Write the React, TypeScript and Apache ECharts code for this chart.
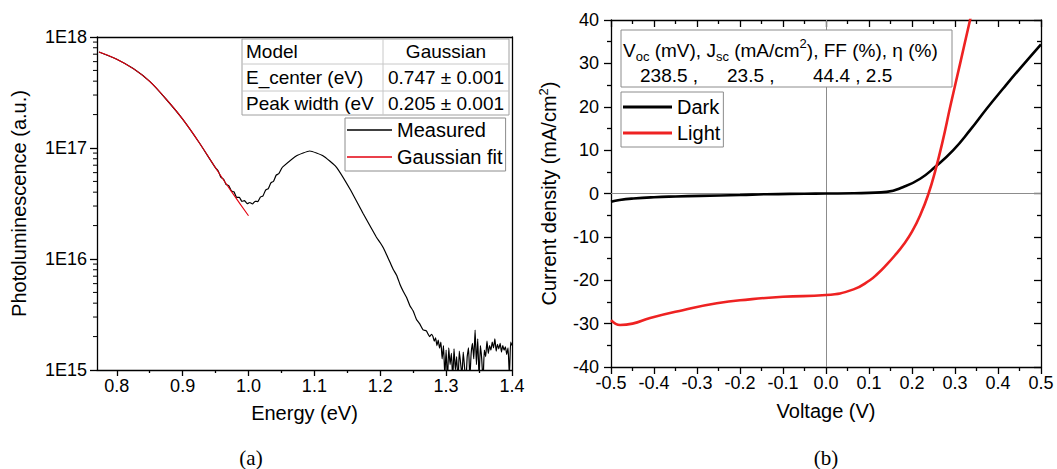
import React, { useEffect, useRef } from "react";
import * as echarts from "echarts";

const FONT = "'Liberation Sans', Arial, sans-serif";

// ---------- (a) Photoluminescence ----------
const plEnergy = [
  0.773, 0.8, 0.825, 0.85, 0.875, 0.9, 0.925, 0.95,
  0.954, 0.958, 0.962, 0.966, 0.97, 0.974, 0.978, 0.982, 0.986, 0.99, 0.994, 0.998, 1.002, 1.006, 1.01, 1.014,
  1.018, 1.022, 1.026, 1.03, 1.034, 1.038, 1.042, 1.046, 1.05,
  1.052, 1.073, 1.093, 1.113, 1.133, 1.154, 1.174, 1.194,
  1.2, 1.205, 1.21, 1.215, 1.22, 1.225, 1.23, 1.235, 1.24, 1.245, 1.25, 1.255, 1.26, 1.265, 1.27, 1.275, 1.278,
  1.28, 1.282, 1.284, 1.286, 1.288, 1.29, 1.292, 1.294, 1.296, 1.298, 1.3, 1.302, 1.304, 1.306, 1.308, 1.31,
  1.312, 1.314, 1.316, 1.318, 1.32, 1.322, 1.324, 1.326, 1.328, 1.33, 1.332, 1.334, 1.336, 1.338, 1.34, 1.342,
  1.344, 1.346, 1.348, 1.35, 1.352, 1.354, 1.356, 1.358, 1.36, 1.362, 1.364, 1.366, 1.368, 1.37, 1.372, 1.374,
  1.376, 1.378, 1.38, 1.382, 1.384, 1.386, 1.388, 1.39, 1.392, 1.394, 1.396, 1.398, 1.4,
];
const plMeasured = [
  7.33e17, 6.31e17, 5.19e17, 3.98e17, 2.75e17, 1.82e17, 1.12e17, 6.61e16,
  6.21e16, 5.45e16, 5.25e16, 4.69e16, 4.59e16, 4.1e16, 4.02e16, 3.59e16, 3.6e16, 3.3e16, 3.36e16, 3.15e16, 3.23e16, 3.13e16, 3.31e16, 3.29e16,
  3.61e16, 3.71e16, 4.18e16, 4.31e16, 4.86e16, 5.02e16, 5.69e16, 5.87e16, 6.5e16,
  6.76e16, 8.51e16, 9.4e16, 8.51e16, 6.76e16, 4.27e16, 2.57e16, 1.58e16,
  1.4e16, 1.25e16, 1.08e16, 9.3e15, 8.0e15, 7.1e15, 5.9e15, 5.1e15, 4.5e15, 3.8e15, 3.4e15, 2.85e15, 2.6e15, 2.3e15, 2.25e15, 2.0e15, 2.1e15,
  2.0e15, 1.82e15, 1.95e15, 1.66e15, 1.86e15, 1.58e15, 1.78e15, 1.26e15, 1.66e15, 8.9e14, 1.51e15, 7.9e14, 1.58e15, 1.12e15, 1.41e15, 8.3e14,
  1.55e15, 1.0e15, 1.32e15, 7.6e14, 1.48e15, 1.15e15, 8.9e14, 1.45e15, 1.05e15, 7.9e14, 1.32e15, 1.58e15, 8.5e14, 1.41e15, 1.74e15, 1.26e15,
  2.29e15, 1.12e15, 1.91e15, 8.3e14, 1.66e15, 1.26e15, 7.9e14, 1.51e15, 1.32e15, 1.82e15, 1.41e15, 1.66e15, 1.51e15, 1.78e15, 1.58e15, 1.91e15,
  1.48e15, 1.7e15, 1.55e15, 1.74e15, 1.45e15, 1.66e15, 1.51e15, 1.62e15, 1.38e15, 1.58e15, 8.9e14, 1.78e15, 1.66e15,
];
const fitEnergy = [0.773, 0.8, 0.825, 0.85, 0.875, 0.9, 0.925, 0.95, 0.975, 1.0];
const fitValues = [7.33e17, 6.31e17, 5.19e17, 3.98e17, 2.75e17, 1.82e17, 1.12e17, 6.61e16, 3.98e16, 2.45e16];
const plXMin = 0.77;
const plXMax = 1.4;
const plXTicks = [0.8, 0.9, 1.0, 1.1, 1.2, 1.3, 1.4];
const plXMinorTicks = [0.85, 0.95, 1.05, 1.15, 1.25, 1.35];
const plYMinorTicks = [
  2e15, 3e15, 4e15, 5e15, 6e15, 7e15, 8e15, 9e15,
  2e16, 3e16, 4e16, 5e16, 6e16, 7e16, 8e16, 9e16,
  2e17, 3e17, 4e17, 5e17, 6e17, 7e17, 8e17, 9e17,
];
const tableRows = [
  ["Model", "Gaussian"],
  ["E_center (eV)", "0.747 \u00b1 0.001"],
  ["Peak width (eV", "0.205 \u00b1 0.001"],
];

// ---------- (b) J-V ----------
const darkV = [-0.5, -0.48, -0.448, -0.4, -0.35, -0.293, -0.2, -0.139, -0.05, 0.0, 0.064, 0.1, 0.141, 0.18, 0.219, 0.2535, 0.296, 0.335, 0.374, 0.412, 0.451, 0.5];
const darkJ = [-1.9, -1.5, -1.15, -0.85, -0.68, -0.55, -0.35, -0.16, -0.05, 0.0, 0.05, 0.15, 0.37, 1.5, 3.4, 6.1, 10.0, 14.6, 19.6, 24.2, 28.8, 34.4];
const lightV = [-0.5, -0.49, -0.479, -0.45, -0.409, -0.333, -0.254, -0.177, -0.1, 0.0, 0.064, 0.102, 0.12, 0.141, 0.16, 0.18, 0.2, 0.22, 0.2385, 0.2535, 0.27, 0.29, 0.312, 0.335, 0.345];
const lightJ = [-29.2, -30.0, -30.3, -30.0, -28.7, -26.9, -25.3, -24.4, -23.8, -23.4, -22.1, -20.0, -18.5, -16.4, -14.3, -11.8, -8.8, -4.8, 0.0, 5.0, 11.5, 20.5, 30.0, 40.0, 44.0];
const headerTitle = "{n|V}{sub|oc}{n| (mV), J}{sub|sc}{n| (mA/cm}{sup|2}{n|), FF (%), \u03b7 (%)}";
const headerValues = ["238.5 ,", "23.5 ,", "44.4 , 2.5"];

const zip = (xs: number[], ys: number[]) => xs.map((x, i) => [x, ys[i]]);

export default function App() {
  const ref = useRef<HTMLDivElement>(null);
  useEffect(() => {
    if (!ref.current) return;
    const chart = echarts.init(ref.current, undefined, { renderer: "svg" });
    const black = { color: "#000", width: 1.3 };
    const gray = "#8c8c8c";
    const tickLabel = { color: "#000", fontSize: 18, fontFamily: FONT };
    const nameStyle = { color: "#000", fontSize: 20, fontFamily: FONT };

    const tableX0 = 242, tableX1 = 509, tableXm = 383;
    const tableY = [39, 64, 91, 115];
    const tableGraphics: any[] = [
      { type: "rect", shape: { x: tableX0, y: tableY[0], width: tableX1 - tableX0, height: tableY[3] - tableY[0] }, style: { fill: "#fff", stroke: "#a0a0a0", lineWidth: 1 } },
      { type: "line", shape: { x1: tableX0, y1: tableY[1], x2: tableX1, y2: tableY[1] }, style: { stroke: "#c8c8c8", lineWidth: 1 } },
      { type: "line", shape: { x1: tableX0, y1: tableY[2], x2: tableX1, y2: tableY[2] }, style: { stroke: "#c8c8c8", lineWidth: 1 } },
      { type: "line", shape: { x1: tableXm, y1: tableY[0], x2: tableXm, y2: tableY[3] }, style: { stroke: "#c8c8c8", lineWidth: 1 } },
    ];
    tableRows.forEach((row, i) => {
      const cy = (tableY[i] + tableY[i + 1]) / 2;
      tableGraphics.push({ type: "text", x: 246, y: cy, style: { text: row[0], fontSize: 19, fontFamily: FONT, fill: "#000", verticalAlign: "middle", align: "left" } });
      tableGraphics.push({ type: "text", x: (tableXm + tableX1) / 2, y: cy, style: { text: row[1], fontSize: 19, fontFamily: FONT, fill: "#000", verticalAlign: "middle", align: "center" } });
    });

    const option: any = {
      animation: false,
      textStyle: { fontFamily: FONT },
      grid: [
        { left: 97, top: 37, width: 415, height: 333 },
        { left: 611, top: 20, width: 430, height: 347 },
      ],
      legend: [
        {
          data: ["Measured", "Gaussian fit"], orient: "vertical", left: 345, top: 118, icon: "rect",
          itemWidth: 45, itemHeight: 1.5, itemGap: 5, padding: [1, 3, 3, 2], borderColor: "#8c8c8c", borderWidth: 1,
          backgroundColor: "#fff", selectedMode: false, textStyle: { fontSize: 20, color: "#000", lineHeight: 22, fontFamily: FONT },
        },
        {
          data: ["Dark", "Light"], orient: "vertical", left: 621, top: 92, icon: "rect",
          itemWidth: 49, itemHeight: 3, itemGap: 4, padding: [4, 3, 3, 2], borderColor: "#8c8c8c", borderWidth: 1,
          backgroundColor: "#fff", selectedMode: false, textStyle: { fontSize: 20, color: "#000", lineHeight: 22, fontFamily: FONT },
        },
      ],
      xAxis: [
        {
          gridIndex: 0, type: "value", min: plXMin, max: plXMax, position: "bottom",
          axisLine: { lineStyle: black },
          axisTick: { customValues: plXTicks, length: 6, lineStyle: black },
          axisLabel: { customValues: plXTicks, formatter: (v: number) => v.toFixed(1), margin: 7, ...tickLabel },
          splitLine: { show: false },
          name: "Energy (eV)", nameLocation: "middle", nameGap: 33, nameTextStyle: nameStyle,
        },
        {
          gridIndex: 0, type: "value", min: plXMin, max: plXMax, position: "bottom",
          axisLine: { show: false },
          axisTick: { customValues: plXMinorTicks, length: 3, lineStyle: black },
          axisLabel: { show: false }, splitLine: { show: false },
        },
        {
          gridIndex: 0, type: "value", min: plXMin, max: plXMax, position: "top",
          axisLine: { lineStyle: black }, axisTick: { show: false }, axisLabel: { show: false }, splitLine: { show: false },
        },
        {
          gridIndex: 1, type: "value", min: -0.5, max: 0.5, interval: 0.1, position: "bottom",
          axisLine: { onZero: false, lineStyle: black },
          axisTick: { length: 7, lineStyle: black },
          minorTick: { show: true, splitNumber: 2, length: 4, lineStyle: black },
          axisLabel: { formatter: (v: number) => v.toFixed(1), margin: 7, ...tickLabel },
          splitLine: { show: false },
          name: "Voltage (V)", nameLocation: "middle", nameGap: 34, nameTextStyle: nameStyle,
        },
        {
          gridIndex: 1, type: "value", min: -0.5, max: 0.5, interval: 0.1, position: "top",
          axisLine: { onZero: false, lineStyle: black },
          axisTick: { inside: true, length: 7, lineStyle: black },
          minorTick: { show: true, splitNumber: 2, length: 4, lineStyle: black },
          axisLabel: { show: false }, splitLine: { show: false },
        },
      ],
      yAxis: [
        {
          gridIndex: 0, type: "log", logBase: 10, min: 1e15, max: 1e18, position: "left",
          axisLine: { lineStyle: black },
          axisTick: { length: 7, lineStyle: black },
          axisLabel: { formatter: (v: number) => "1E" + Math.round(Math.log10(v)), margin: 10, ...tickLabel },
          splitLine: { show: false },
          name: "Photoluminescence (a.u.)", nameLocation: "middle", nameGap: 68, nameTextStyle: nameStyle,
        },
        {
          gridIndex: 0, type: "log", logBase: 10, min: 1e15, max: 1e18, position: "right",
          axisLine: { lineStyle: black }, axisTick: { show: false }, axisLabel: { show: false }, splitLine: { show: false },
        },
        {
          gridIndex: 1, type: "value", min: -40, max: 40, interval: 10, position: "left",
          axisLine: { onZero: false, lineStyle: black },
          axisTick: { length: 7, lineStyle: black },
          minorTick: { show: true, splitNumber: 2, length: 4, lineStyle: black },
          axisLabel: { margin: 12, ...tickLabel },
          splitLine: { show: false },
          name: "{n|Current density (mA/cm}{s|2}{n|)}", nameLocation: "middle", nameGap: 50,
          nameTextStyle: {
            ...nameStyle,
            rich: {
              n: { fontSize: 20, fontFamily: FONT, color: "#000", lineHeight: 24 },
              s: { fontSize: 13, fontFamily: FONT, color: "#000", lineHeight: 14, verticalAlign: "top" },
            },
          },
        },
        {
          gridIndex: 1, type: "value", min: -40, max: 40, interval: 10, position: "right",
          axisLine: { onZero: false, lineStyle: black },
          axisTick: { inside: true, length: 7, lineStyle: black },
          minorTick: { show: true, splitNumber: 2, length: 4, lineStyle: black },
          axisLabel: { show: false }, splitLine: { show: false },
        },
      ],
      series: [
        {
          name: "Measured", type: "line", xAxisIndex: 0, yAxisIndex: 0, data: zip(plEnergy, plMeasured),
          showSymbol: false, smooth: 0.15, clip: true,
          lineStyle: { color: "#000", width: 1.2 }, itemStyle: { color: "#000" }, z: 2,
        },
        {
          name: "Gaussian fit", type: "line", xAxisIndex: 0, yAxisIndex: 0, data: zip(fitEnergy, fitValues),
          showSymbol: false, smooth: true, clip: true,
          lineStyle: { color: "#e3000f", width: 1.1 }, itemStyle: { color: "#e3000f" }, z: 3,
        },
        {
          type: "custom", xAxisIndex: 0, yAxisIndex: 0, clip: false, silent: true,
          data: plYMinorTicks.map((v) => [plXMin, v]),
          renderItem: (_p: any, api: any) => {
            const pt = api.coord([api.value(0), api.value(1)]);
            return { type: "line", shape: { x1: pt[0] - 4, y1: pt[1], x2: pt[0], y2: pt[1] }, style: { stroke: "#000", lineWidth: 1 } };
          },
        },
        {
          name: "Dark", type: "line", xAxisIndex: 3, yAxisIndex: 2, data: zip(darkV, darkJ),
          showSymbol: false, smooth: true, clip: true,
          lineStyle: { color: "#000", width: 2.6 }, itemStyle: { color: "#000" }, z: 3,
          markLine: {
            silent: true, symbol: ["none", "none"], label: { show: false },
            lineStyle: { color: gray, type: "solid", width: 1 },
            data: [{ xAxis: 0 }, { yAxis: 0 }],
            z: 1,
          },
        },
        {
          name: "Light", type: "line", xAxisIndex: 3, yAxisIndex: 2, data: zip(lightV, lightJ),
          showSymbol: false, smooth: true, clip: true,
          lineStyle: { color: "#ee2222", width: 2.6 }, itemStyle: { color: "#ee2222" }, z: 3,
        },
      ],
      graphic: [
        ...tableGraphics.map((g) => ({ ...g, z: 100 })),
        { type: "rect", z: 100, shape: { x: 621, y: 30, width: 331, height: 57 }, style: { fill: "#fff", stroke: "#8c8c8c", lineWidth: 1 } },
        {
          type: "text", z: 101, x: 623, y: 50,
          style: {
            text: headerTitle, verticalAlign: "middle", align: "left",
            rich: {
              n: { fontSize: 19, fontFamily: FONT, fill: "#000", lineHeight: 26 },
              sub: { fontSize: 13, fontFamily: FONT, fill: "#000", lineHeight: 14, verticalAlign: "bottom" },
              sup: { fontSize: 13, fontFamily: FONT, fill: "#000", lineHeight: 14, verticalAlign: "top" },
            },
          },
        },
        { type: "text", z: 101, x: 640, y: 75, style: { text: headerValues[0], fontSize: 19, fontFamily: FONT, fill: "#000", verticalAlign: "middle" } },
        { type: "text", z: 101, x: 727, y: 75, style: { text: headerValues[1], fontSize: 19, fontFamily: FONT, fill: "#000", verticalAlign: "middle" } },
        { type: "text", z: 101, x: 813, y: 75, style: { text: headerValues[2], fontSize: 19, fontFamily: FONT, fill: "#000", verticalAlign: "middle" } },
        { type: "text", z: 101, x: 251, y: 458, style: { text: "(a)", fontSize: 21, fontFamily: "'Liberation Serif', 'DejaVu Serif', serif", fill: "#000", align: "center", verticalAlign: "middle" } },
        { type: "text", z: 101, x: 826, y: 458, style: { text: "(b)", fontSize: 21, fontFamily: "'Liberation Serif', 'DejaVu Serif', serif", fill: "#000", align: "center", verticalAlign: "middle" } },
      ],
    };
    chart.setOption(option);
    return () => chart.dispose();
  }, []);
  return <div ref={ref} style={{ position: "absolute", left: 0, top: 0, width: 1057, height: 469, background: "#fff" }} />;
}
